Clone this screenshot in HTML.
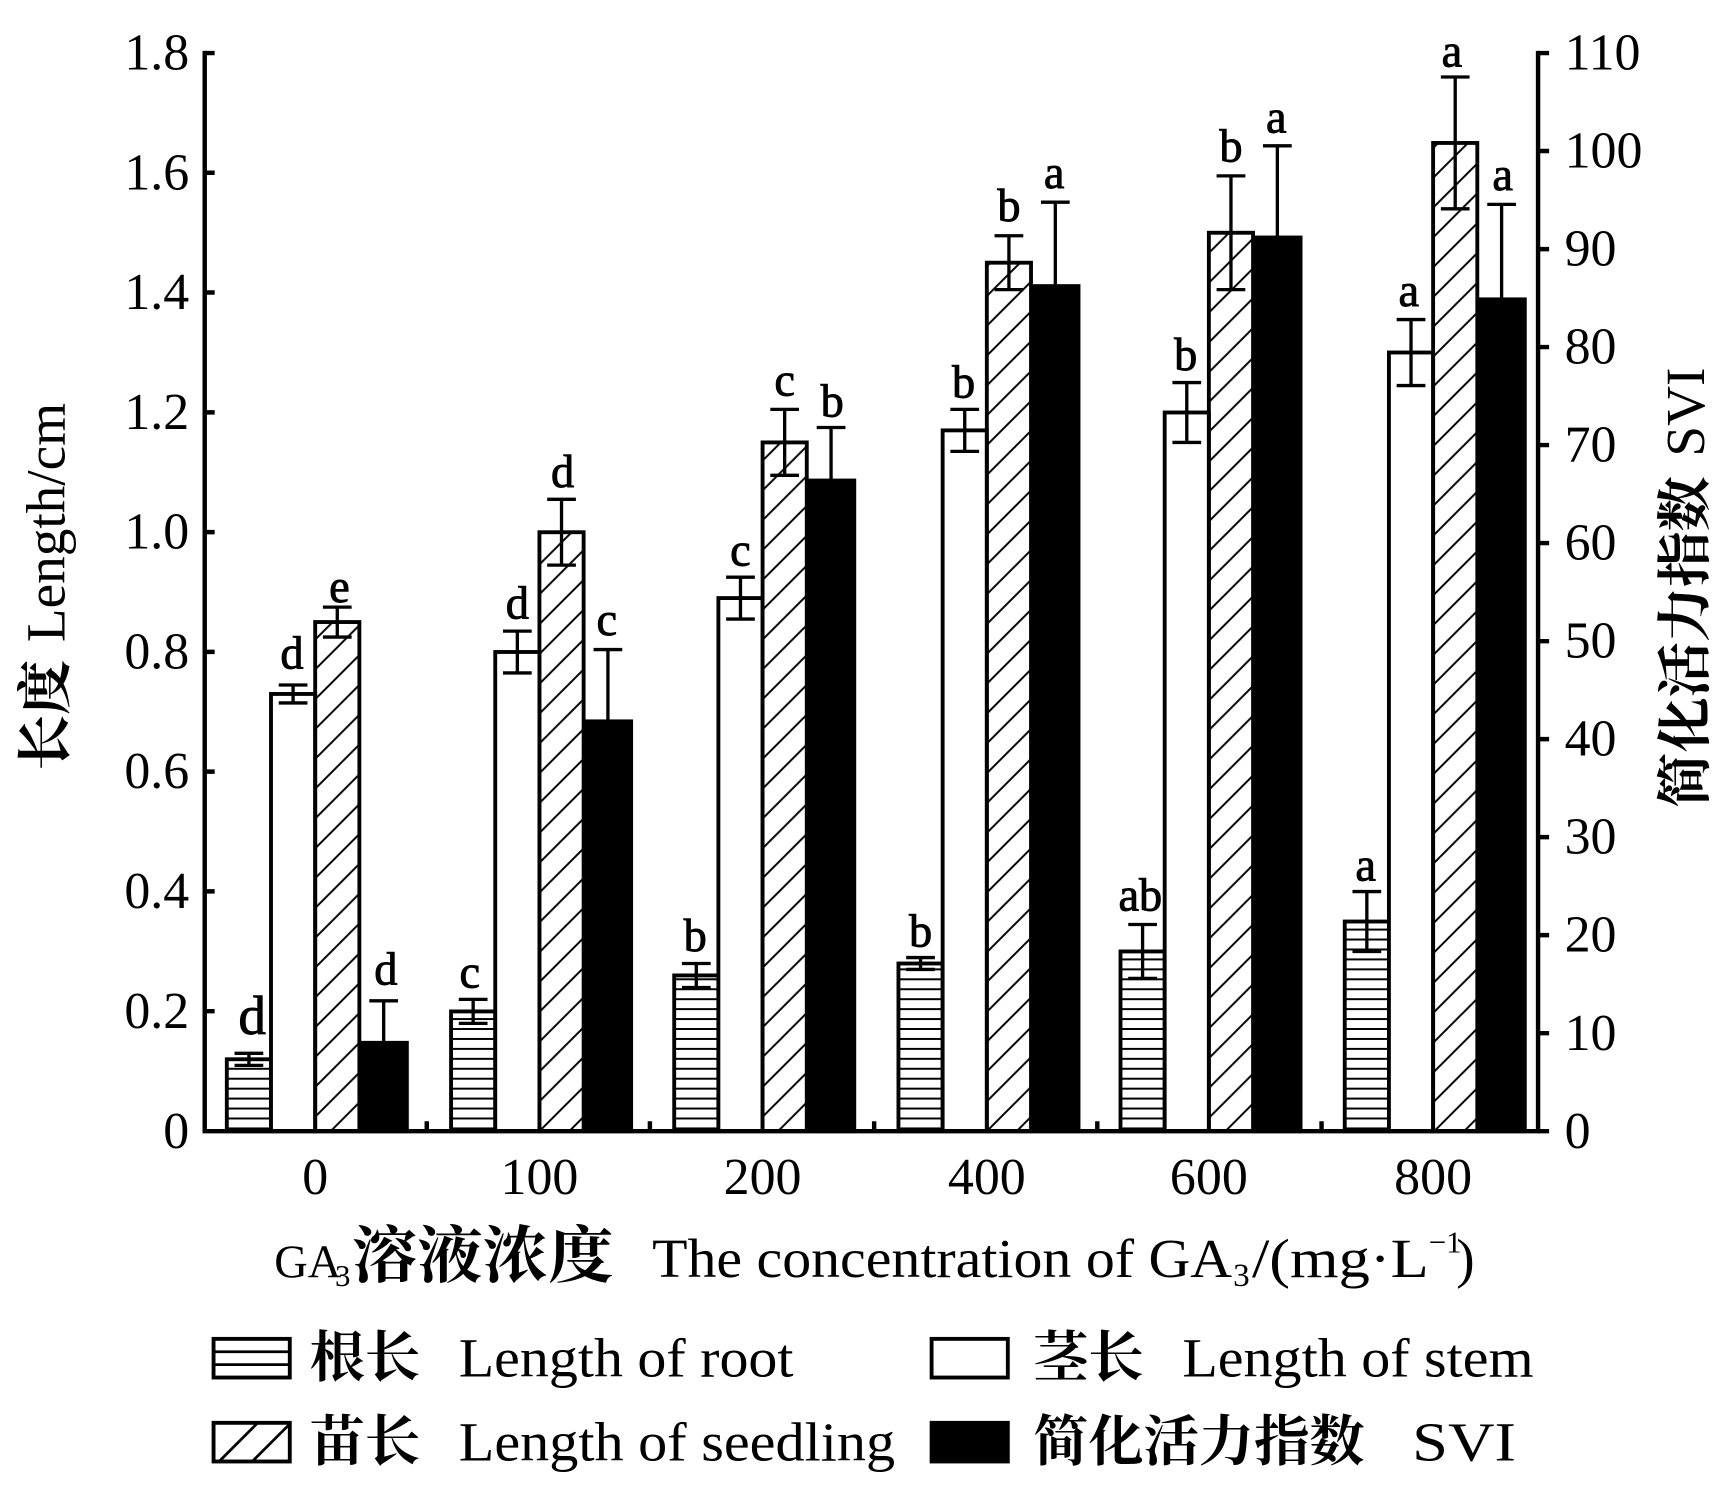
<!DOCTYPE html>
<html><head><meta charset="utf-8"><style>html,body{margin:0;padding:0;background:#fff}svg{display:block}</style></head>
<body>
<svg width="1724" height="1488" viewBox="0 0 1560 1347" xmlns="http://www.w3.org/2000/svg" font-family="'Liberation Serif','Noto Serif CJK SC',serif">
<defs>
<pattern id="hz" patternUnits="userSpaceOnUse" width="40" height="9"><line x1="0" y1="4.5" x2="40" y2="4.5" stroke="#000" stroke-width="1.8"/></pattern>
<pattern id="dg" patternUnits="userSpaceOnUse" width="27" height="27"><path d="M-3,30 L30,-3 M-3,3 L3,-3 M24,30 L30,24" stroke="#000" stroke-width="1.8"/></pattern>
</defs>
<rect width="1560" height="1347" fill="#fff"/>
<g stroke="#000" stroke-width="3.5">
<rect x="205" y="958.9" width="40" height="65.1" fill="url(#hz)"/>
<rect x="408" y="915.6" width="40" height="108.4" fill="url(#hz)"/>
<rect x="610" y="883" width="40" height="141" fill="url(#hz)"/>
<rect x="813" y="872.2" width="40" height="151.8" fill="url(#hz)"/>
<rect x="1014" y="861.3" width="40" height="162.7" fill="url(#hz)"/>
<rect x="1217" y="834.2" width="40" height="189.8" fill="url(#hz)"/>
<rect x="245" y="628.2" width="40" height="395.8" fill="#fff"/>
<rect x="448" y="590.2" width="40" height="433.8" fill="#fff"/>
<rect x="650" y="541.4" width="40" height="482.6" fill="#fff"/>
<rect x="853" y="389.6" width="40" height="634.4" fill="#fff"/>
<rect x="1054" y="373.4" width="40" height="650.6" fill="#fff"/>
<rect x="1257" y="319.1" width="40" height="704.9" fill="#fff"/>
<rect x="285" y="563.1" width="40" height="460.9" fill="url(#dg)"/>
<rect x="488" y="481.8" width="40" height="542.2" fill="url(#dg)"/>
<rect x="690" y="400.5" width="40" height="623.5" fill="url(#dg)"/>
<rect x="893" y="237.8" width="40" height="786.2" fill="url(#dg)"/>
<rect x="1094" y="210.7" width="40" height="813.3" fill="url(#dg)"/>
<rect x="1297" y="129.4" width="40" height="894.6" fill="url(#dg)"/>
<rect x="326" y="944" width="42" height="80" fill="#000"/>
<rect x="529" y="653" width="42" height="371" fill="#000"/>
<rect x="731" y="435" width="42" height="589" fill="#000"/>
<rect x="934" y="259" width="42" height="765" fill="#000"/>
<rect x="1135" y="215" width="42" height="809" fill="#000"/>
<rect x="1338" y="271" width="42" height="753" fill="#000"/>
</g>
<g stroke="#000" stroke-width="3" fill="none">
<path d="M225,964.4V953.5M212,964.4H238M212,953.5H238"/>
<path d="M428,926.4V904.7M415,926.4H441M415,904.7H441"/>
<path d="M630,893.9V872.2M617,893.9H643M617,872.2H643"/>
<path d="M833,877.6V866.8M820,877.6H846M820,866.8H846"/>
<path d="M1034,885.7V836.9M1021,885.7H1047M1021,836.9H1047"/>
<path d="M1237,861.3V807.1M1224,861.3H1250M1224,807.1H1250"/>
<path d="M265,636.3V620.1M252,636.3H278M252,620.1H278"/>
<path d="M468,609.2V571.3M455,609.2H481M455,571.3H481"/>
<path d="M670,560.4V522.5M657,560.4H683M657,522.5H683"/>
<path d="M873,408.6V370.6M860,408.6H886M860,370.6H886"/>
<path d="M1074,400.5V346.3M1061,400.5H1087M1061,346.3H1087"/>
<path d="M1277,349V289.3M1264,349H1290M1264,289.3H1290"/>
<path d="M305,576.7V549.6M292,576.7H318M292,549.6H318"/>
<path d="M508,511.6V452M495,511.6H521M495,452H521"/>
<path d="M710,430.3V370.6M697,430.3H723M697,370.6H723"/>
<path d="M913,262.2V213.4M900,262.2H926M900,213.4H926"/>
<path d="M1114,262.2V159.2M1101,262.2H1127M1101,159.2H1127"/>
<path d="M1317,189V69.7M1304,189H1330M1304,69.7H1330"/>
<path d="M347,944V906M334,906H360"/>
<path d="M550,653V588M537,588H563"/>
<path d="M752,435V387M739,387H765"/>
<path d="M955,259V183M942,183H968"/>
<path d="M1156,215V132M1143,132H1169"/>
<path d="M1359,271V185M1346,185H1372"/>
</g>
<g stroke="#000" stroke-width="4" fill="none">
<path d="M185,46V1024H1392V46"/>
<path d="M185,48h9M185,156.4h9M185,264.8h9M185,373.3h9M185,481.7h9M185,590.1h9M185,698.5h9M185,806.9h9M185,915.4h9"/>
<path d="M1392,48h10M1392,136.7h10M1392,225.5h10M1392,314.2h10M1392,402.9h10M1392,491.6h10M1392,580.4h10M1392,669.1h10M1392,757.8h10M1392,846.5h10M1392,935.3h10M1392,1024h10"/>
<path d="M386,1024v-9M588,1024v-9M791,1024v-9M993,1024v-9M1196,1024v-9"/>
</g>
<g font-size="47" text-anchor="end">
<text x="171" y="63">1.8</text><text x="171" y="171.4">1.6</text><text x="171" y="279.8">1.4</text><text x="171" y="388.3">1.2</text><text x="171" y="496.7">1.0</text><text x="171" y="605.1">0.8</text><text x="171" y="713.5">0.6</text><text x="171" y="821.9">0.4</text><text x="171" y="930.4">0.2</text><text x="171" y="1039">0</text>
</g>
<g font-size="47" text-anchor="start">
<text x="1416" y="63">110</text><text x="1416" y="151.7">100</text><text x="1416" y="240.5">90</text><text x="1416" y="329.2">80</text><text x="1416" y="417.9">70</text><text x="1416" y="506.6">60</text><text x="1416" y="595.4">50</text><text x="1416" y="684.1">40</text><text x="1416" y="772.8">30</text><text x="1416" y="861.5">20</text><text x="1416" y="950.3">10</text><text x="1416" y="1039">0</text>
</g>
<g font-size="47" text-anchor="middle">
<text x="285" y="1081">0</text><text x="488" y="1081">100</text><text x="690" y="1081">200</text><text x="893" y="1081">400</text><text x="1094" y="1081">600</text><text x="1297" y="1081">800</text>
</g>
<g font-size="42" text-anchor="middle" stroke="#000" stroke-width="0.8">
<text x="228" y="936" font-size="50">d</text><text x="425" y="894">c</text><text x="629" y="861">b</text><text x="833" y="857">b</text><text x="1032" y="824">ab</text><text x="1236" y="797">a</text>
<text x="264" y="605">d</text><text x="468" y="560">d</text><text x="670" y="512">c</text><text x="872" y="360">b</text><text x="1073" y="335">b</text><text x="1275" y="277">a</text>
<text x="307" y="545">e</text><text x="509" y="441">d</text><text x="710" y="358">c</text><text x="913" y="200">b</text><text x="1114" y="146">b</text><text x="1314" y="60">a</text>
<text x="349" y="891">d</text><text x="549" y="575">c</text><text x="753" y="377">b</text><text x="954" y="170">a</text><text x="1155" y="120">a</text><text x="1360" y="172">a</text>
</g>
<text transform="translate(58,531) rotate(-90)" text-anchor="middle" font-size="50"><tspan font-family="'Noto Serif CJK SC',serif" font-weight="bold">长度</tspan><tspan dx="16">Length/cm</tspan></text>
<text transform="translate(1542,532) rotate(-90)" text-anchor="middle" font-size="50"><tspan font-family="'Noto Serif CJK SC',serif" font-weight="bold">简化活力指数</tspan><tspan dx="18">SVI</tspan></text>
<g font-size="50">
<text x="248" y="1156" font-size="42">GA</text>
<text x="303" y="1164" font-size="28">3</text>
<text x="318" y="1156" font-size="56" font-family="'Noto Serif CJK SC',serif" font-weight="bold" textLength="237" lengthAdjust="spacingAndGlyphs">溶液浓度</text>
<text x="590" y="1156" textLength="525" lengthAdjust="spacingAndGlyphs">The concentration of GA</text>
<text x="1116" y="1164" font-size="30">3</text>
<text x="1133" y="1156" textLength="160" lengthAdjust="spacingAndGlyphs">/(mg·L</text>
<text x="1293" y="1134" font-size="28">−1</text>
<text x="1318" y="1156">)</text>
</g>
<g stroke="#000" stroke-width="3.5" fill="#fff">
<rect x="193" y="1212" width="69" height="35"/>
<path d="M193,1223.7H262M193,1235.3H262" stroke-width="2.5"/>
<rect x="193" y="1288" width="69" height="35"/>
<path d="M198,1323L233,1288M228,1323L262,1289" stroke-width="2.5"/>
<rect x="843" y="1212" width="69" height="35"/>
<rect x="843" y="1288" width="69" height="35" fill="#000"/>
</g>
<g font-size="50">
<text x="280" y="1246" font-family="'Noto Serif CJK SC',serif" font-weight="bold">根长</text>
<text x="415" y="1246" textLength="303" lengthAdjust="spacingAndGlyphs">Length of root</text>
<text x="280" y="1322" font-family="'Noto Serif CJK SC',serif" font-weight="bold">苗长</text>
<text x="415" y="1322" textLength="395" lengthAdjust="spacingAndGlyphs">Length of seedling</text>
<text x="935" y="1246" font-family="'Noto Serif CJK SC',serif" font-weight="bold">茎长</text>
<text x="1070" y="1246" textLength="318" lengthAdjust="spacingAndGlyphs">Length of stem</text>
<text x="935" y="1322" font-family="'Noto Serif CJK SC',serif" font-weight="bold">简化活力指数</text>
<text x="1278" y="1322" textLength="94" lengthAdjust="spacingAndGlyphs">SVI</text>
</g>
</svg>
</body></html>
